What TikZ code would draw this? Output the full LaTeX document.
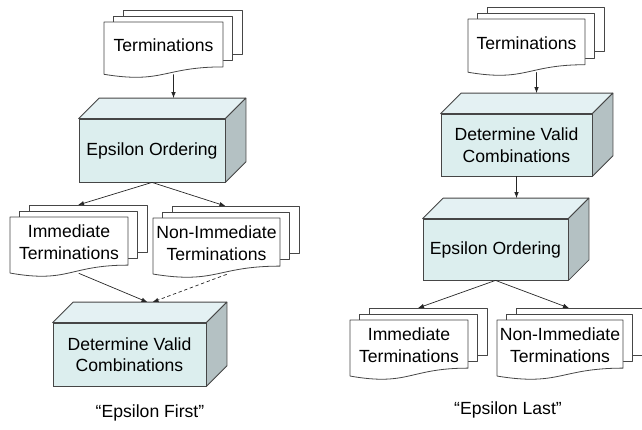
\documentclass[tikz,border=0pt]{standalone}
\usepackage{fontspec}
\setmainfont{Liberation Sans}
\usetikzlibrary{arrows.meta,calc}

\definecolor{boxfront}{RGB}{220,238,238}
\definecolor{boxtop}{RGB}{228,241,243}
\definecolor{boxside}{RGB}{180,193,195}
\definecolor{edgegray}{RGB}{70,70,70}

\tikzset{
  txt/.style={font=\fontsize{17.6}{21.5}\selectfont, align=center, inner sep=0pt},
  block/.style={txt, draw=edgegray, line width=0.8pt, fill=boxfront},
  face/.style={draw=edgegray, line width=0.8pt, line join=round},
  page/.style={draw=edgegray, line width=0.8pt, fill=white, line join=round},
  flow/.style={draw=black!85, line width=0.7pt, -{Latex[length=6pt,width=4.5pt]}},
}

% 3D box: name, centre, width, height, text
\newcommand{\cubebox}[5]{%
  \node[block, minimum width=#3pt, minimum height=#4pt] (#1) at #2 {#5};
  \filldraw[face, fill=boxtop] (#1.north west) -- ++(20.5,-20.5)
    -- ([shift={(20.5,-20.5)}]#1.north east) -- (#1.north east) -- cycle;
  \filldraw[face, fill=boxside] (#1.north east) -- ++(20.5,-20.5)
    -- ([shift={(20.5,-20.5)}]#1.south east) -- (#1.south east) -- cycle;
  \coordinate (#1-back) at ([shift={(20.5,-20.5)}]#1.north);
}

% stack of pages: name, left, top, width, height, text
\newcommand{\docstack}[6]{%
  \foreach \k in {2,1}{
    \filldraw[page] ({#2+9.5*\k},{#3-6*\k}) rectangle ({#2+#4+9.5*\k},{#3+0.802*#5-6.5*\k});
  }
  \filldraw[page] (#2,#3) -- ({#2+#4},#3) -- ({#2+#4},{#3+0.802*#5})
    .. controls ({#2+0.5*#4},{#3+0.802*#5}) and ({#2+0.5*#4},{#3+1.107*#5}) .. (#2,{#3+0.934*#5}) -- cycle;
  \node[txt] (#1) at ({#2+0.5*#4},{#3+0.42*#5}) {#6};
  \coordinate (#1-in) at ({#2+0.5*#4+9},{#3-12});
  \coordinate (#1-out) at ({#2+0.5*#4+10},{#3+0.94*#5});
}

\begin{document}
\begin{tikzpicture}[x=1pt, y=-1pt, line cap=round]
  \useasboundingbox (0,0) rectangle (642,429);
  \clip (0,0) rectangle (642,429);

  % Left: epsilon first
  \docstack{termL}{104}{22}{119}{56}{Terminations}
  \cubebox{epsL}{(152,150.5)}{146}{63}{Epsilon Ordering}
  \docstack{immL}{10}{217}{118}{60}{Immediate\\Terminations}
  \docstack{nonL}{153}{218}{127}{60}{Non-Immediate\\Terminations}
  \cubebox{detL}{(129.5,354.5)}{153}{63}{Determine Valid\\Combinations}
  \node[txt] (first) at (150,413) {“Epsilon First”};

  \draw[flow] (termL-out) -- (termL-out |- epsL-back);
  \draw[flow] (epsL.south) -- (immL-in);
  \draw[flow] (epsL.south) -- (nonL-in);
  \draw[flow] (immL-out) -- ([xshift=-2.5pt]detL-back);
  \draw[flow, dashed] (nonL-out) -- ([xshift=2.5pt]detL-back);

  % Right: epsilon last
  \docstack{termR}{468}{19}{117}{57}{Terminations}
  \cubebox{detR}{(516.5,145)}{151}{62}{Determine Valid\\Combinations}
  \cubebox{epsR}{(495.5,249.5)}{145}{61}{Epsilon Ordering}
  \docstack{immR}{350}{320}{118}{60}{Immediate\\Terminations}
  \docstack{nonR}{497}{320}{126}{60}{Non-Immediate\\Terminations}
  \node[txt] (last) at (508,410) {“Epsilon Last”};

  \draw[flow] (termR-out) -- (termR-out |- detR-back);
  \draw[flow] (detR.south) -- (detR.south |- epsR-back);
  \draw[flow] (epsR.south) -- (immR-in);
  \draw[flow] (epsR.south) -- (nonR-in);
\end{tikzpicture}
\end{document}
